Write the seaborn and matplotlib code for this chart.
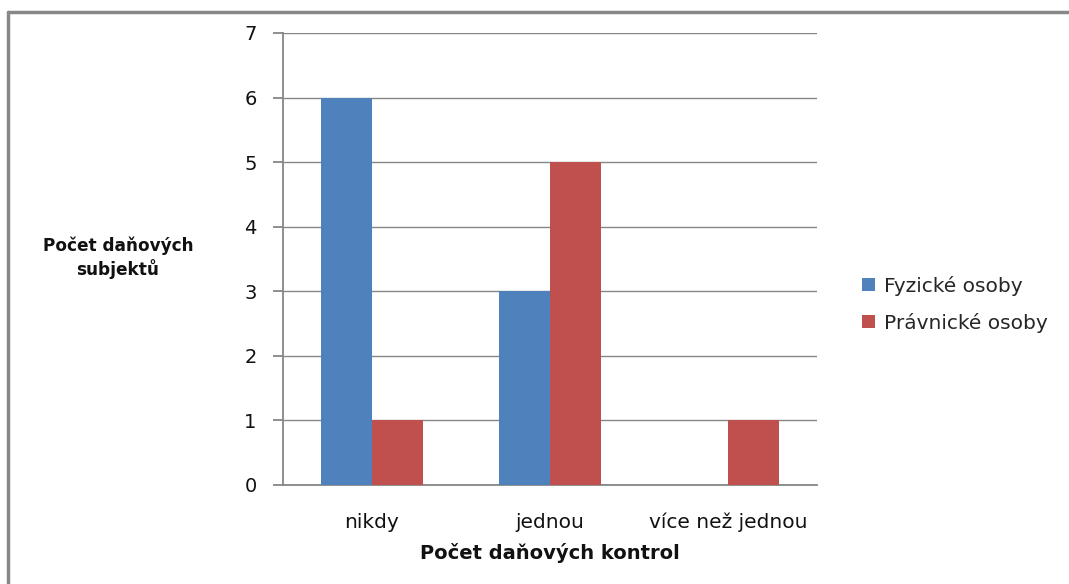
import pandas as pd
import matplotlib.pyplot as plt
import seaborn as sns
from matplotlib.lines import Line2D

# Data
categories = ['nikdy', 'jednou', 'více než jednou']
fyzicke = [6, 3, 0]
pravnicke = [1, 5, 1]
series_names = ['Fyzické osoby', 'Právnické osoby']

df = pd.DataFrame({
    'kategorie': categories * 2,
    'pocet': fyzicke + pravnicke,
    'typ': [series_names[0]] * 3 + [series_names[1]] * 3,
})

sns.set_style('white')
plt.rcParams['font.family'] = ['DejaVu Sans']

fig = plt.figure(figsize=(10.69, 5.84), dpi=100)
ax = fig.add_axes([283 / 1069, 1 - 485 / 584, 534 / 1069, 452 / 584])

sns.barplot(data=df, x='kategorie', y='pocet', hue='typ', order=categories,
            palette=['#4f81bd', '#c0504d'], width=0.573, saturation=1,
            linewidth=0, ax=ax, zorder=3)

ax.set_ylim(0, 7)
ax.set_xlim(-0.5, 2.5)
ax.set_yticks(range(8))
ax.yaxis.grid(True, color='#868686', linewidth=1, zorder=0)
ax.set_axisbelow(True)

for s in ['top', 'right']:
    ax.spines[s].set_visible(False)
for s in ['left', 'bottom']:
    ax.spines[s].set_color('#868686')
    ax.spines[s].set_linewidth(1.3)

# category ticks between groups
ax.set_xticks([-0.5, 0.5, 1.5, 2.5], minor=True)
ax.tick_params(axis='x', which='minor', length=6, color='#868686', width=1.3, direction='out')
ax.tick_params(axis='x', which='major', length=0, labelsize=14.5, pad=20, labelcolor='#111111')
ax.tick_params(axis='y', length=7, color='#868686', width=1.3, labelsize=14, pad=12,
               direction='out', left=True, labelcolor='#111111')

ax.set_xlabel('Počet daňových kontrol', fontsize=14, fontweight='bold', labelpad=8,
              color='#111111')
ax.set_ylabel('')
fig.text(118 / 1069, 1 - 258 / 584, 'Počet daňových\nsubjektů', ha='center', va='center',
         fontsize=12.2, fontweight='bold', linespacing=1.25, color='#111111')

ax.legend(loc='center left', bbox_to_anchor=(1.05, 0.40), frameon=False,
          fontsize=14.5, handlelength=0.65, handleheight=0.65, labelspacing=0.85,
          handletextpad=0.45)

# outer frame
fig.add_artist(Line2D([8 / 1069, 1], [1 - 12 / 584, 1 - 12 / 584], color='#888888', linewidth=2.5,
                      transform=fig.transFigure))
fig.add_artist(Line2D([8 / 1069, 8 / 1069], [0, 1 - 12 / 584], color='#888888', linewidth=2.5,
                      transform=fig.transFigure))

fig.savefig('out.png', dpi=100)
